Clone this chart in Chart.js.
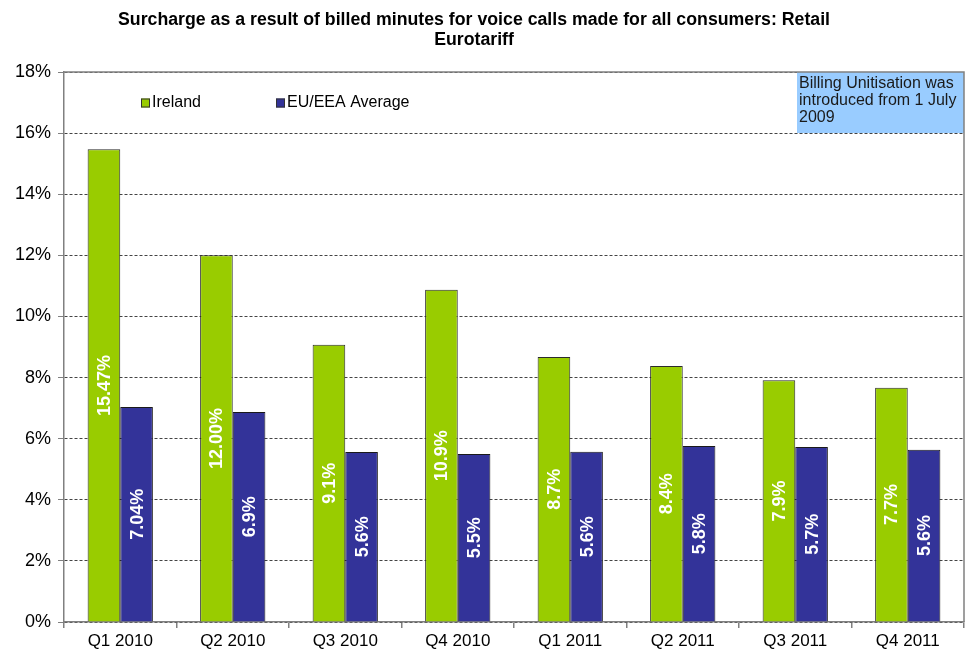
<!DOCTYPE html>
<html><head><meta charset="utf-8">
<script src="https://cdn.jsdelivr.net/npm/chart.js@4.4.1/dist/chart.umd.min.js"></script>
<style>html,body{margin:0;padding:0;background:#fff}#wrap{width:970px;height:654px}</style>
</head><body><div id="wrap"><canvas id="c" width="970" height="654"></canvas></div>
<script>
const categories = ['Q1 2010','Q2 2010','Q3 2010','Q4 2010','Q1 2011','Q2 2011','Q3 2011','Q4 2011'];
const irelandValues = [15.47, 12.00, 9.07, 10.87, 8.67, 8.38, 7.91, 7.67];
const euValues = [7.04, 6.87, 5.56, 5.50, 5.57, 5.76, 5.73, 5.64];
const irelandLabels = ['15.47%','12.00%','9.1%','10.9%','8.7%','8.4%','7.9%','7.7%'];
const euLabels = ['7.04%','6.9%','5.6%','5.5%','5.6%','5.8%','5.7%','5.6%'];
const seriesNames = ['Ireland','EU/EEA Average'];
const titleLines = ['Surcharge as a result of billed minutes for voice calls made for all consumers: Retail','Eurotariff'];
const noteLines = ['Billing Unitisation was','introduced from 1 July','2009'];
const yMin = 0, yMax = 18, yStep = 2;

const FONT = "'Liberation Sans', Arial, sans-serif";

const decor = {
  id: 'decor',
  beforeDatasetsDraw(chart) {
    const {ctx, chartArea: a} = chart;
    // note box
    ctx.save();
    ctx.fillStyle = '#99ccff';
    ctx.fillRect(a.right - 167, a.top, 167, 61);
    ctx.fillStyle = '#1a1a1a';
    ctx.font = '16px ' + FONT;
    ctx.textBaseline = 'middle';
    noteLines.forEach((t, i) => ctx.fillText(t, a.right - 165, a.top + 12 + i * 17));
    ctx.restore();
  },
  afterDatasetsDraw(chart) {
    const {ctx, chartArea: a} = chart;
    ctx.save();
    // data labels
    ctx.fillStyle = '#ffffff';
    ctx.font = 'bold 18px ' + FONT;
    ctx.textAlign = 'center';
    ctx.textBaseline = 'middle';
    const lbls = [irelandLabels, euLabels];
    chart.data.datasets.forEach((ds, di) => {
      chart.getDatasetMeta(di).data.forEach((el, i) => {
        const cy = (el.y + el.base) / 2;
        ctx.save();
        ctx.translate(el.x, cy);
        ctx.rotate(-Math.PI / 2);
        ctx.fillText(lbls[di][i], 0, 1);
        ctx.restore();
      });
    });
    // plot border top/right
    ctx.strokeStyle = '#808080';
    ctx.lineWidth = 1.5;
    ctx.beginPath();
    ctx.moveTo(a.left, a.top); ctx.lineTo(a.right, a.top); ctx.lineTo(a.right, a.bottom);
    ctx.stroke();
    // legend inside plot
    ctx.font = '16px ' + FONT;
    ctx.textAlign = 'left';
    ctx.textBaseline = 'middle';
    const lx = [a.left + 77, a.left + 212];
    const ly = a.top + 31;
    chart.data.datasets.forEach((ds, di) => {
      ctx.fillStyle = ds.backgroundColor;
      ctx.fillRect(lx[di], ly - 4.5, 9, 9);
      ctx.strokeStyle = '#333';
      ctx.lineWidth = 1;
      ctx.strokeRect(lx[di] + 0.5, ly - 4, 8, 8);
      ctx.fillStyle = '#000';
      ctx.fillText(ds.label, lx[di] + 11, ly);
    });
    // title
    ctx.fillStyle = '#000';
    ctx.textAlign = 'center';
    ctx.font = "bold 18px " + FONT;
    const cx = 474;
    const targetW = 712;
    const w0 = ctx.measureText(titleLines[0]).width;
    const s = targetW / w0;
    titleLines.forEach((t, i) => {
      ctx.save();
      ctx.translate(cx, 20 + i * 20);
      ctx.scale(s, 1);
      ctx.fillText(t, 0, 0);
      ctx.restore();
    });
    ctx.restore();
  }
};

new Chart(document.getElementById('c'), {
  type: 'bar',
  data: {
    labels: categories,
    datasets: [
      {label: seriesNames[0], data: irelandValues, backgroundColor: '#99cc00', borderColor: '#2b2b2b', borderWidth: 1,
       categoryPercentage: 0.58, barPercentage: 1.0},
      {label: seriesNames[1], data: euValues, backgroundColor: '#333399', borderColor: '#1a1a1a', borderWidth: 1,
       categoryPercentage: 0.58, barPercentage: 1.0}
    ]
  },
  options: {
    responsive: false,
    animation: false,
    layout: {padding: {top: 72, right: 6, left: 0, bottom: 0}},
    plugins: {legend: {display: false}, title: {display: false}, tooltip: {enabled: false}},
    scales: {
      x: {
        offset: true,
        grid: {offset: true, drawOnChartArea: false, drawTicks: true, tickLength: 6, color: '#808080', lineWidth: 1.5},
        border: {color: '#808080', width: 1.5},
        ticks: {color: '#000', font: {family: FONT, size: 17}, padding: 3, maxRotation: 0},
        afterFit(sc) { sc.height = 32; }
      },
      y: {
        min: yMin, max: yMax,
        grid: {color: '#444', lineWidth: 1, tickLength: 6, tickColor: '#808080', drawTicks: true},
        border: {color: '#808080', width: 1.5, dash: [3, 2]},
        ticks: {stepSize: yStep, color: '#000', font: {family: FONT, size: 18}, padding: 7,
                callback: v => v + '%'},
        afterFit(sc) { sc.width = 64; }
      }
    }
  },
  plugins: [decor]
});
</script>
</body></html>
